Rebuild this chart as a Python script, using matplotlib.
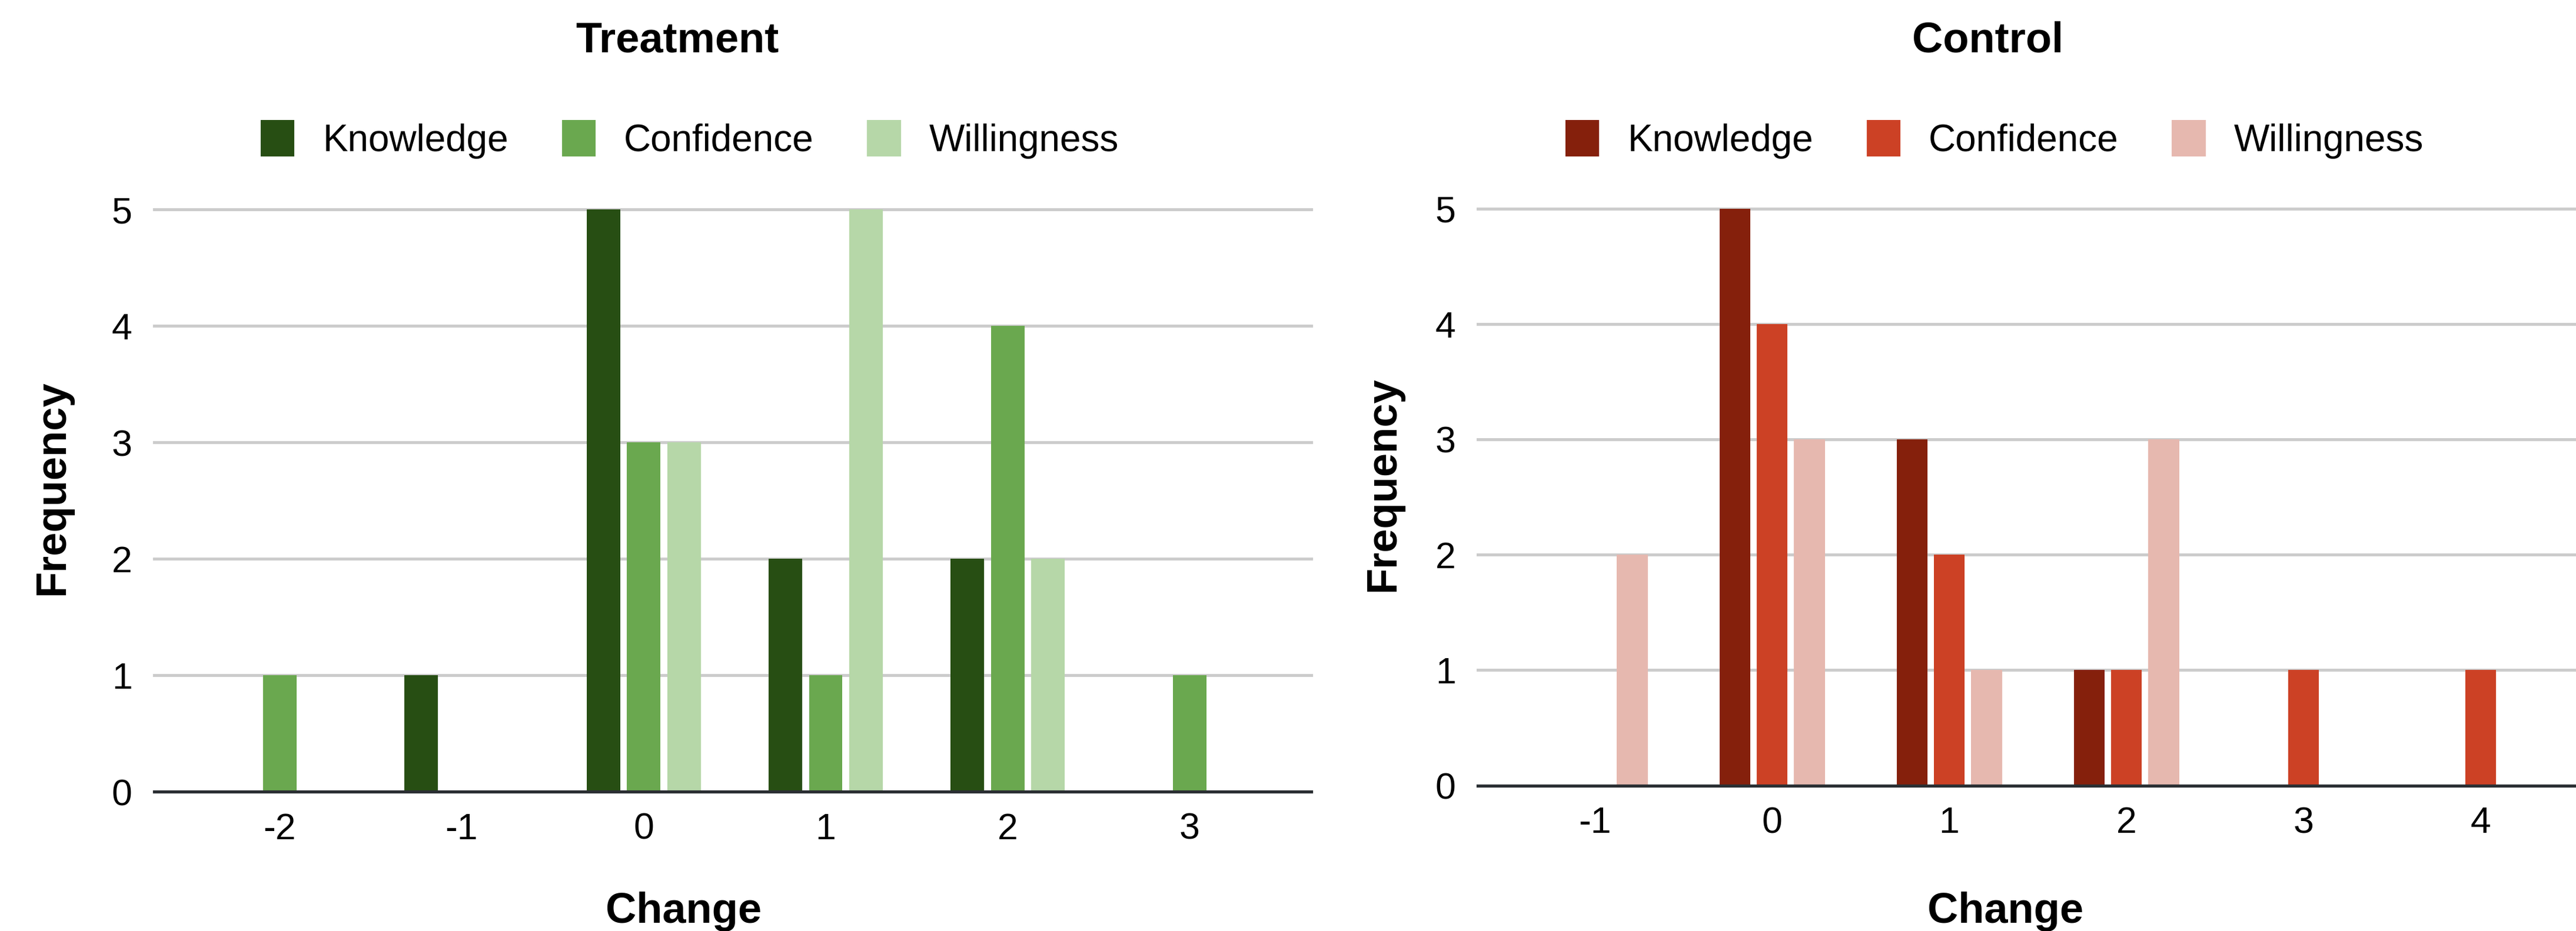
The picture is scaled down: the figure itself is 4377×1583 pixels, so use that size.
import numpy as np
import matplotlib.pyplot as plt
from matplotlib.patches import Patch

plt.rcParams['font.family'] = ['Liberation Sans', 'DejaVu Sans']

# change scores and how often each one occurred
treat_changes = ["-2", "-1", "0", "1", "2", "3"]
treat_knowledge = [0, 1, 5, 2, 2, 0]
treat_confidence = [1, 0, 3, 1, 4, 1]
treat_willingness = [0, 0, 3, 5, 2, 0]

ctrl_changes = ["-1", "0", "1", "2", "3", "4"]
ctrl_knowledge = [0, 5, 3, 1, 0, 0]
ctrl_confidence = [0, 4, 2, 1, 1, 1]
ctrl_willingness = [2, 3, 1, 3, 0, 0]

series_names = ["Knowledge", "Confidence", "Willingness"]
greens = ["#274e13", "#6aa84f", "#b6d7a8"]
reds = ["#85200c", "#cc4125", "#e6b8af"]

fig = plt.figure(figsize=(43.77, 15.83), dpi=100)

ax1 = fig.add_axes([0.0599, 0.1497, 0.4492, 0.6376])
ax2 = fig.add_axes([0.5737, 0.1563, 0.4263, 0.6321])


def draw_panel(ax, labels, series, colors, offset, width, xlim):
    x = np.arange(len(labels))
    for i, (vals, col) in enumerate(zip(series, colors)):
        ax.bar(x + (i - 1) * offset, vals, width, color=col, zorder=3)
    ax.set_xlim(*xlim)
    ax.set_ylim(0, 5.1)
    ax.set_xticks(x)
    ax.set_xticklabels(labels)
    ax.set_yticks(range(6))
    ax.tick_params(length=0, labelsize=45)
    ax.tick_params(axis='x', pad=25)
    ax.tick_params(axis='y', pad=27)
    for v in range(1, 6):
        ax.axhline(v, color='#cccccc', lw=3.6, zorder=1, clip_on=False)
    ax.axhline(0, color='#2b2f33', lw=3.8, zorder=4, clip_on=False)
    for s in ax.spines.values():
        s.set_visible(False)


draw_panel(ax1, treat_changes, [treat_knowledge, treat_confidence, treat_willingness],
           greens, 0.222, 0.184, (-0.689, 5.669))
draw_panel(ax2, ctrl_changes, [ctrl_knowledge, ctrl_confidence, ctrl_willingness],
           reds, 0.21, 0.175, (-0.661, 5.538))

# titles and axis labels
fig.text(1151 / 4377, 0.956, "Treatment", ha='center', va='center', fontsize=52, fontweight='bold')
fig.text(3378 / 4377, 0.956, "Control", ha='center', va='center', fontsize=52, fontweight='bold')
fig.text(89 / 4377, 1 - 829 / 1583, "Frequency", rotation=90, ha='center', va='center',
         fontsize=52, fontweight='bold')
fig.text(2350 / 4377, 1 - 823 / 1583, "Frequency", rotation=90, ha='center', va='center',
         fontsize=52, fontweight='bold')
fig.text(1162 / 4377, 1 - 1550 / 1583, "Change", ha='center', va='center', fontsize=52, fontweight='bold')
fig.text(3408 / 4377, 1 - 1550 / 1583, "Change", ha='center', va='center', fontsize=52, fontweight='bold')

# legends
for colors, cx in [(greens, 1172 / 4377), (reds, 3389 / 4377)]:
    handles = [Patch(facecolor=c, label=n) for c, n in zip(colors, series_names)]
    fig.legend(handles=handles, loc='center', bbox_to_anchor=(cx, 1 - 237 / 1583), ncol=3,
               frameon=False, fontsize=46, handlelength=0.9, handleheight=1.1,
               handletextpad=0.75, columnspacing=1.42, borderpad=0)

fig.savefig("out.png", dpi=100, facecolor='white')
